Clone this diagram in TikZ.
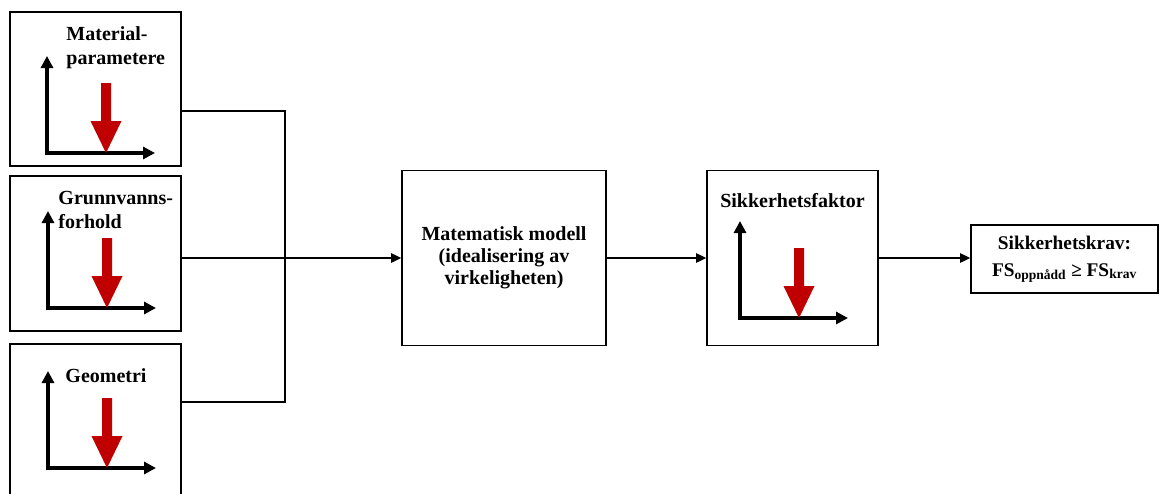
\documentclass[tikz,border=0pt]{standalone}
\usepackage{fontspec}
\setmainfont{Liberation Serif}
\usetikzlibrary{arrows.meta,positioning}

\definecolor{fsred}{RGB}{192,0,0}

\begin{document}
\begin{tikzpicture}[x=0.75pt, y=-0.75pt,
	box/.style={draw, line width=1.2pt, rectangle, inner sep=0pt},
	label/.style={inner sep=0pt, align=left, font=\fontsize{15}{18}\selectfont\bfseries},
	link/.style={line width=1.1pt, -{Triangle[length=7.5pt,width=7pt]}},
	axis/.style={line width=2.3pt, {Triangle[length=9pt,width=9pt]}-{Triangle[length=9pt,width=9pt]}},
	graf/.pic={
		\draw[axis] (0,-97) |- (108,0);
		\fill[fsred] (54,-70) -- (64,-70) -- (64,-32) -- (74.5,-32)
			-- (59,0) -- (43.5,-32) -- (54,-32) -- cycle;
	}]

	\useasboundingbox (0,0) rectangle (1160,493);

	% input boxes
	\node[box, minimum width=128.25pt, minimum height=115.5pt] (mat) at (95.5, 89) {};
	\node[label, below right=11.25pt and 42.75pt of mat.north west] (matlbl) {Material-\\parametere};
	\pic at (47,153) {graf};

	\node[box, minimum width=128.25pt, minimum height=116.25pt] (grv) at (95.5, 253.5) {};
	\node[label, below right=12pt and 36.75pt of grv.north west] (grvlbl) {Grunnvanns-\\forhold};
	\pic at (48,308) {graf};

	\node[box, minimum width=128.25pt, minimum height=116.25pt] (geo) at (95.5, 421.5) {};
	\node[label, below right=18.75pt and 42pt of geo.north west] (geolbl) {Geometri};
	\pic at (48,468) {graf};

	% model, factor and requirement
	\node[box, minimum width=153pt, minimum height=131.25pt, align=center,
		font=\fontsize{15}{16.5}\selectfont\bfseries] (model) at (504, 258)
		{Matematisk modell\\(idealisering av\\virkeligheten)};

	\node[box, minimum width=128.25pt, minimum height=131.25pt] (fs) at (792.5, 258) {};
	\node[label, below=17.25pt of fs.north] (fslbl) {Sikkerhetsfaktor};
	\pic at (740,318) {graf};

	\node[box, minimum width=140.25pt, minimum height=51pt, align=center,
		font=\fontsize{14.5}{20}\selectfont\bfseries] (krav) at (1064.5, 259)
		{Sikkerhetskrav:\\FS\textsubscript{oppnådd} ≥ FS\textsubscript{krav}};

	% connectors
	\draw[line width=1.1pt] ([yshift=-16.5pt]mat.east) -- ++(103,0) |- ([yshift=14.6pt]geo.east);
	\draw[link] (grv.east |- model.west) -- (model.west);
	\draw[link] (model.east) -- (fs.west);
	\draw[link] (fs.east) -- (fs.east -| krav.west);

\end{tikzpicture}
\end{document}
